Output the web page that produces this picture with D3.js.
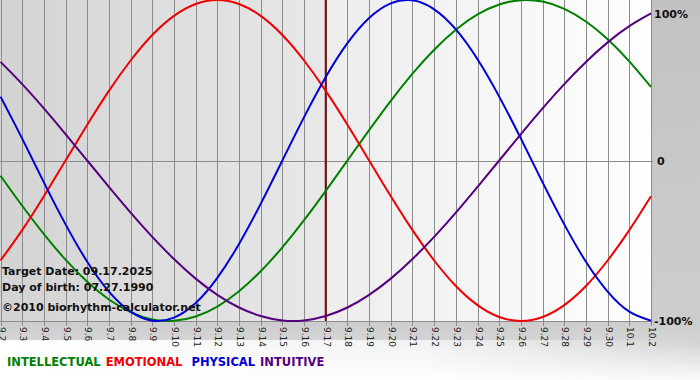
<!DOCTYPE html>
<html>
<head>
<meta charset="utf-8">
<script src="https://cdn.jsdelivr.net/npm/d3@7"></script>
<style>
  body { margin: 0; background: #ffffff; }
  svg { display: block; }
  .tick-label { font-family: Tahoma, "DejaVu Sans", sans-serif; font-size: 9px; fill: #222; }
  .info { font-family: Tahoma, "DejaVu Sans", sans-serif; font-size: 11px; font-weight: bold; fill: #111; }
  .legend { font-family: Tahoma, "DejaVu Sans", sans-serif; font-size: 11.5px; font-weight: bold; }
  .pct { font-family: Tahoma, "DejaVu Sans", sans-serif; font-size: 11px; font-weight: bold; fill: #111; }
</style>
</head>
<body>
<div id="chart"></div>
<script>
// dates shown on the x axis (one per day)
var dates = ['9.2', '9.3', '9.4', '9.5', '9.6', '9.7', '9.8', '9.9', '9.10', '9.11', '9.12', '9.13',
  '9.14', '9.15', '9.16', '9.17', '9.18', '9.19', '9.20', '9.21', '9.22', '9.23', '9.24', '9.25',
  '9.26', '9.27', '9.28', '9.29', '9.30', '10.1', '10.2'];

// cycle values in percent
var intellectual = [-9.5, -28.2, -45.8, -61.8, -75.6, -86.6, -94.5, -99.0, -99.9, -97.2, -91.0,
  -81.5, -69.0, -54.1, -37.2, -18.9, 0, 18.9, 37.2, 54.1, 69.0, 81.5, 91.0, 97.2, 99.9, 99.0,
  94.5, 86.6, 75.6, 61.8, 45.8];
var emotional = [-62.3, -43.4, -22.3, 0, 22.3, 43.4, 62.3, 78.2, 90.1, 97.5, 100, 97.5, 90.1,
  78.2, 62.3, 43.4, 22.3, 0, -22.3, -43.4, -62.3, -78.2, -90.1, -97.5, -100, -97.5, -90.1,
  -78.2, -62.3, -43.4, -22.3];
var physical = [39.8, 13.6, -13.6, -39.8, -63.1, -81.7, -94.2, -99.8, -97.9, -88.8, -73.1,
  -52.0, -27.0, 0, 27.0, 52.0, 73.1, 88.8, 97.9, 99.8, 94.2, 81.7, 63.1, 39.8, 13.6, -13.6,
  -39.8, -63.1, -81.7, -94.2, -99.8];
var intuitive = [61.4, 47.6, 32.5, 16.5, 0, -16.5, -32.5, -47.6, -61.4, -73.6, -83.7, -91.6,
  -96.9, -99.7, -99.7, -96.9, -91.6, -83.7, -73.6, -61.4, -47.6, -32.5, -16.5, 0, 16.5, 32.5,
  47.6, 61.4, 73.6, 83.7, 91.6];

var targetIndex = 15;
var yTicks = [100, 0, -100];
var yTickLabels = ['100%', '0', '-100%'];
var infoLines = ['Target Date: 09.17.2025', 'Day of birth: 07.27.1990', '\u00a92010 biorhythm-calculator.net'];

var series = [
  { name: 'INTELLECTUAL', values: intellectual, color: '#008000' },
  { name: 'EMOTIONAL', values: emotional, color: '#f00000' },
  { name: 'PHYSICAL', values: physical, color: '#0000d8' },
  { name: 'INTUITIVE', values: intuitive, color: '#55007f' }
];

var width = 700, height = 380;
var plot = { left: 0.5, right: 651, top: 0, bottom: 321 };

var x = d3.scaleLinear().domain([0, dates.length - 1]).range([plot.left, plot.right]);
var y = d3.scaleLinear().domain([-100, 100]).range([plot.bottom, plot.top]);

var svg = d3.select('#chart').append('svg')
  .attr('width', width)
  .attr('height', height);

var defs = svg.append('defs');

// outer background
var gOuter = defs.append('linearGradient').attr('id', 'outerGrad')
  .attr('x1', 0).attr('y1', 0).attr('x2', 0).attr('y2', 1);
gOuter.append('stop').attr('offset', '0%').attr('stop-color', '#c2c2c2');
gOuter.append('stop').attr('offset', '85%').attr('stop-color', '#cdcdcd');
gOuter.append('stop').attr('offset', '100%').attr('stop-color', '#e6e6e6');

var gBand = defs.append('linearGradient').attr('id', 'bandGrad')
  .attr('x1', 0).attr('y1', 0).attr('x2', 1).attr('y2', 0);
gBand.append('stop').attr('offset', '0%').attr('stop-color', '#ffffff');
gBand.append('stop').attr('offset', '60%').attr('stop-color', '#f2f2f2');
gBand.append('stop').attr('offset', '100%').attr('stop-color', '#d2d2d2');

var gBandV = defs.append('linearGradient').attr('id', 'bandGradV')
  .attr('x1', 0).attr('y1', 0).attr('x2', 0).attr('y2', 1);
gBandV.append('stop').attr('offset', '0%').attr('stop-color', '#ffffff').attr('stop-opacity', 0);
gBandV.append('stop').attr('offset', '100%').attr('stop-color', '#ffffff').attr('stop-opacity', 0.9);

// plot backgrounds: before and after target date
var gPast = defs.append('linearGradient').attr('id', 'pastGrad')
  .attr('x1', 0).attr('y1', 0).attr('x2', 1).attr('y2', 0);
gPast.append('stop').attr('offset', '0%').attr('stop-color', '#d3d3d3');
gPast.append('stop').attr('offset', '100%').attr('stop-color', '#e8e8e8');

var gFuture = defs.append('linearGradient').attr('id', 'futureGrad')
  .attr('x1', 0).attr('y1', 0).attr('x2', 1).attr('y2', 0);
gFuture.append('stop').attr('offset', '0%').attr('stop-color', '#ededed');
gFuture.append('stop').attr('offset', '100%').attr('stop-color', '#fefefe');

svg.append('rect').attr('width', width).attr('height', height).attr('fill', 'url(#outerGrad)');
svg.append('rect').attr('x', 0).attr('y', 340).attr('width', width).attr('height', 40)
  .attr('fill', 'url(#bandGrad)');
svg.append('rect').attr('x', 0).attr('y', 340).attr('width', width).attr('height', 40)
  .attr('fill', 'url(#bandGradV)');

svg.append('rect')
  .attr('x', 0).attr('y', plot.top)
  .attr('width', x(targetIndex)).attr('height', plot.bottom - plot.top)
  .attr('fill', 'url(#pastGrad)');
svg.append('rect')
  .attr('x', x(targetIndex)).attr('y', plot.top)
  .attr('width', plot.right - x(targetIndex)).attr('height', plot.bottom - plot.top)
  .attr('fill', 'url(#futureGrad)');

// vertical day grid lines and ticks
var grid = svg.append('g');
grid.selectAll('line.v')
  .data(dates)
  .enter().append('line')
  .attr('class', 'v')
  .attr('x1', function (d, i) { return Math.round(x(i)) + 0.5; })
  .attr('x2', function (d, i) { return Math.round(x(i)) + 0.5; })
  .attr('y1', plot.top)
  .attr('y2', plot.bottom + 5)
  .attr('stroke', '#8c8c8c')
  .attr('stroke-width', 1);

// horizontal lines at the y ticks
grid.selectAll('line.h')
  .data(yTicks.slice(1))
  .enter().append('line')
  .attr('class', 'h')
  .attr('x1', 0)
  .attr('x2', plot.right + 2)
  .attr('y1', function (d) { return Math.round(y(d)) + 0.5; })
  .attr('y2', function (d) { return Math.round(y(d)) + 0.5; })
  .attr('stroke', '#8c8c8c')
  .attr('stroke-width', 1);

// x labels, rotated
svg.append('g').selectAll('text')
  .data(dates)
  .enter().append('text')
  .attr('class', 'tick-label')
  .attr('transform', function (d, i) { return 'translate(' + (Math.round(x(i)) + 0.5) + ',' + (plot.bottom + 6) + ') rotate(90)'; })
  .attr('dy', '0.33em')
  .text(function (d) { return d; });

// y labels on the right
svg.append('g').selectAll('text')
  .data(yTicks)
  .enter().append('text')
  .attr('class', 'pct')
  .attr('x', function (d, i) { return i === 1 ? 657 : 654; })
  .attr('y', function (d, i) { return i === 0 ? 18 : y(d) + 4; })
  .text(function (d, i) { return yTickLabels[i]; });

// target date line
svg.append('line')
  .attr('x1', x(targetIndex)).attr('x2', x(targetIndex))
  .attr('y1', plot.top).attr('y2', plot.bottom)
  .attr('stroke', '#7a0a0a')
  .attr('stroke-width', 2);

// cycle curves
var line = d3.line()
  .x(function (d, i) { return x(i); })
  .y(function (d) { return y(d); })
  .curve(d3.curveNatural);

var curves = svg.append('g');
series.forEach(function (s) {
  curves.append('path')
    .datum(s.values)
    .attr('fill', 'none')
    .attr('stroke', s.color)
    .attr('stroke-width', 2)
    .attr('d', line);
});

// info text bottom left
svg.append('g').selectAll('text')
  .data(infoLines)
  .enter().append('text')
  .attr('class', 'info')
  .attr('x', 2)
  .attr('y', function (d, i) { return [275, 291, 311][i]; })
  .text(function (d) { return d; });

// legend
var legend = svg.append('text')
  .attr('class', 'legend')
  .attr('x', 7)
  .attr('y', 366);
series.forEach(function (s, i) {
  legend.append('tspan')
    .attr('fill', s.color)
    .attr('dx', i === 0 ? 0 : (i === 2 ? 9 : 5))
    .text(s.name);
});
</script>
</body>
</html>
